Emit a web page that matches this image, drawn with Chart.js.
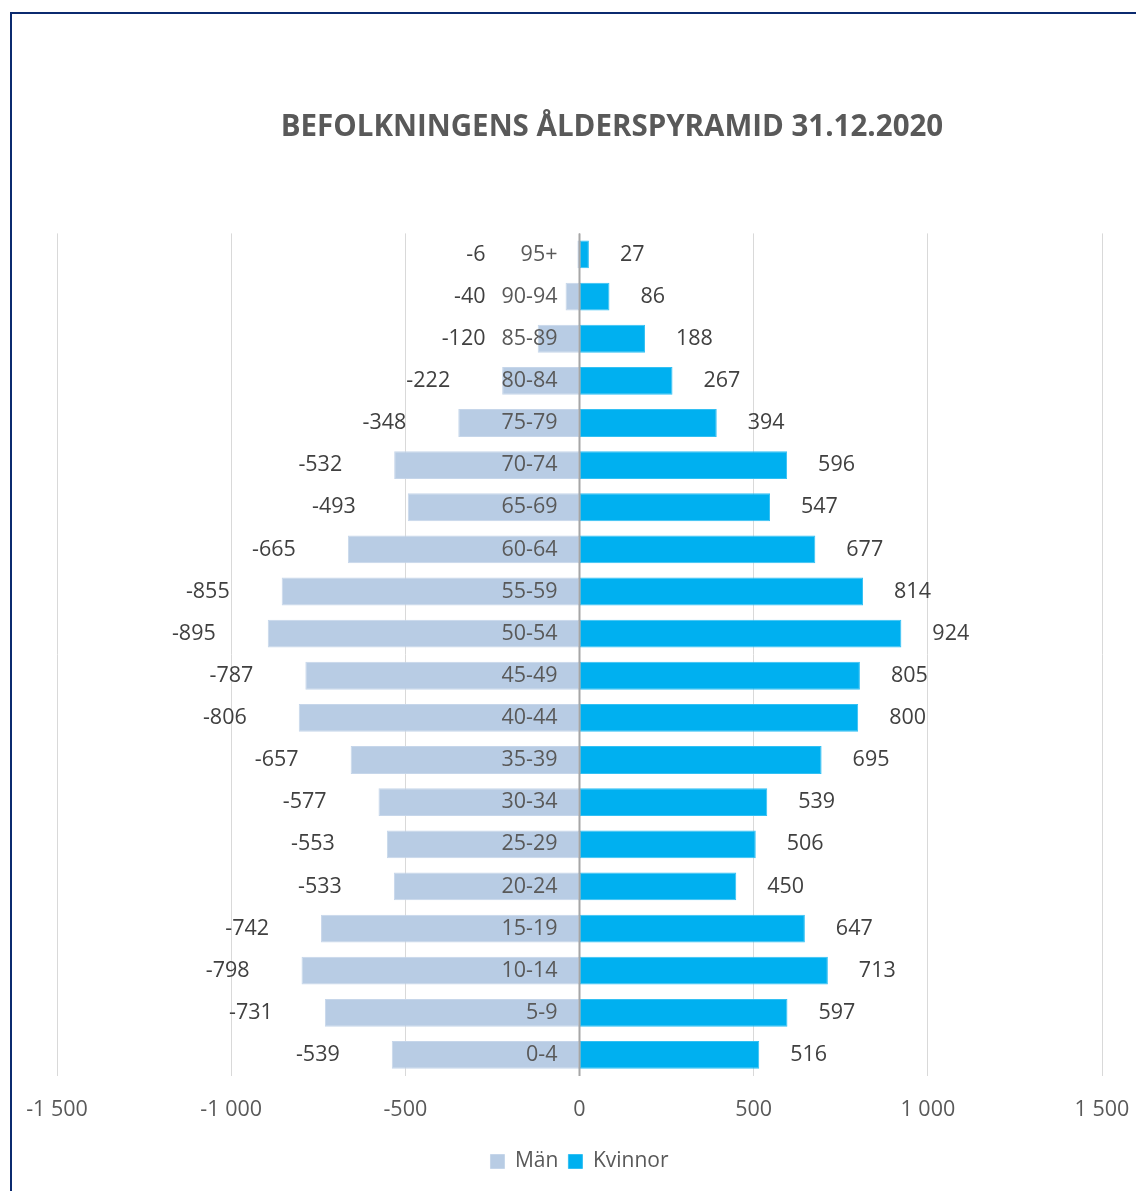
<!DOCTYPE html>
<html>
<head>
<meta charset="utf-8">
<script src="https://cdn.jsdelivr.net/npm/chart.js@4.4.1/dist/chart.umd.min.js"></script>
<style>
  html, body { margin: 0; padding: 0; background: #fff; overflow: hidden; width: 1136px; height: 1191px; }
  #frame { position: absolute; left: 10px; top: 12px; width: 1200px; height: 1200px;
           border-left: 2px solid #0b2a6f; border-top: 2px solid #0b2a6f; }
</style>
</head>
<body>
<div id="frame"><canvas id="pyramid" width="1200" height="1177"></canvas></div>
<script>
const ageGroups = ['95+', '90-94', '85-89', '80-84', '75-79', '70-74', '65-69', '60-64', '55-59', '50-54',
                   '45-49', '40-44', '35-39', '30-34', '25-29', '20-24', '15-19', '10-14', '5-9', '0-4'];
const men   = [-6, -40, -120, -222, -348, -532, -493, -665, -855, -895,
               -787, -806, -657, -577, -553, -533, -742, -798, -731, -539];
const women = [27, 86, 188, 267, 394, 596, 547, 677, 814, 924,
               805, 800, 695, 539, 506, 450, 647, 713, 597, 516];
const xMin = -1500, xMax = 1500, xStep = 500;

const textGrey = '#595959';
const font = 'Open Sans';
const labelSize = 21.5;

// thousands with a space, like "-1 500"
function fmt(v) {
    const s = Math.abs(v).toString();
    const f = s.length > 3 ? s.slice(0, -3) + ' ' + s.slice(-3) : s;
    return (v < 0 ? '-' : '') + f;
}

// age group names sit just left of the zero line, value labels outside the bar ends
const pyramidLabels = {
    id: 'pyramidLabels',
    afterDatasetsDraw(chart) {
        const { ctx, chartArea, scales: { x, y } } = chart;
        const zero = x.getPixelForValue(0);
        ctx.save();
        ctx.strokeStyle = '#a6a6a6';
        ctx.lineWidth = 2;
        ctx.beginPath();
        ctx.moveTo(zero, chartArea.top);
        ctx.lineTo(zero, chartArea.bottom);
        ctx.stroke();

        ctx.font = `${labelSize}px "${font}"`;
        ctx.textBaseline = 'middle';
        ageGroups.forEach((g, i) => {
            const yy = y.getPixelForValue(i);
            ctx.fillStyle = textGrey;
            ctx.textAlign = 'right';
            ctx.fillText(g, zero - 22, yy);
            ctx.fillStyle = '#404040';
            // keep small men's labels clear of the age group name
            const mx = Math.min(x.getPixelForValue(men[i]) - 52, zero - 94);
            ctx.fillText(fmt(men[i]), mx, yy);
            ctx.textAlign = 'left';
            ctx.fillText(fmt(women[i]), x.getPixelForValue(women[i]) + 31, yy);
        });
        ctx.restore();
    }
};

const ctx = document.getElementById('pyramid').getContext('2d');
new Chart(ctx, {
    type: 'bar',
    data: {
        labels: ageGroups,
        datasets: [
            { label: 'Män', data: men, backgroundColor: '#b8cce4', borderColor: '#c6d6ea', borderWidth: 1,
              borderSkipped: false, barPercentage: 0.66, categoryPercentage: 1 },
            { label: 'Kvinnor', data: women, backgroundColor: '#00b0f0', borderColor: '#33c0f3', borderWidth: 1,
              borderSkipped: false, barPercentage: 0.66, categoryPercentage: 1 }
        ]
    },
    options: {
        indexAxis: 'y',
        responsive: false,
        animation: false,
        layout: { padding: { left: 10, right: 10, top: 0, bottom: 9 } },
        scales: {
            x: {
                stacked: true,
                min: xMin, max: xMax,
                ticks: { stepSize: xStep, color: textGrey, padding: 21, font: { family: font, size: labelSize },
                         callback: v => fmt(v) },
                grid: { drawTicks: false, color: c => c.tick && c.tick.value === 0 ? '#a6a6a6' : '#d9d9d9' },
                border: { display: false },
                afterFit: s => { s.height = 65; s.paddingLeft = 0; s.paddingRight = 0; }
            },
            y: {
                stacked: true,
                ticks: { display: false },
                grid: { display: false },
                border: { display: false },
                afterFit: s => { s.width = 35; }
            },
            yRight: {
                type: 'category',
                position: 'right',
                labels: ageGroups,
                ticks: { display: false },
                grid: { display: false },
                border: { display: false },
                afterFit: s => { s.width = 100; }
            }
        },
        plugins: {
            title: {
                display: true,
                text: 'BEFOLKNINGENS ÅLDERSPYRAMID 31.12.2020',
                color: textGrey,
                font: { family: font, size: 29.5, weight: 'bold' },
                padding: { top: 96, bottom: 88 }
            },
            legend: {
                position: 'bottom',
                fullSize: false,
                labels: { boxWidth: 14, boxHeight: 14, color: textGrey, padding: 10,
                          font: { family: font, size: 21 } }
            },
            tooltip: { enabled: false }
        }
    },
    plugins: [pyramidLabels]
});
</script>
</body>
</html>
